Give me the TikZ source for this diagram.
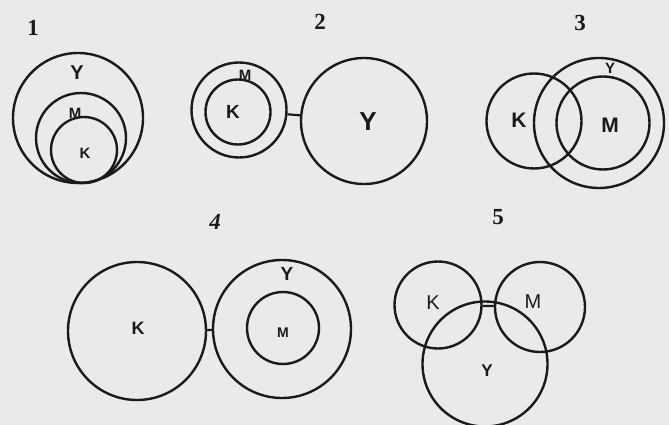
\documentclass[tikz,border=0pt]{standalone}
\usepackage{fontspec}
\setmainfont{Liberation Serif}
\newfontfamily\labfont{Liberation Sans}
\definecolor{paper}{HTML}{EAEAE8}
\definecolor{ink}{HTML}{1A1A1A}
\newcommand\fs[1]{\fontsize{#1}{#1}\selectfont}
\begin{document}
\begin{tikzpicture}[x=1pt,y=-1pt,
  ring/.style={circle,draw=ink,line width=2.4pt,inner sep=0pt,minimum size=#1},
  lab/.style={text=ink,font=\labfont\bfseries\fs{#1},inner sep=0pt},
  labl/.style={text=ink,font=\labfont\fs{#1},inner sep=0pt},
  num/.style={text=ink,font=\bfseries\fs{23},inner sep=0pt},
  link/.style={draw=ink,line width=2.2pt}]
\fill[paper] (0,0) rectangle (669,425);
\useasboundingbox (0,0) rectangle (669,425);
% figure 1
\node[num] (n1) at (33,28) {1};
\node[ring=130pt] (y1) at (78,118) {};
\node[ring=90pt] (m1) at (81,138) {};
\node[ring=66pt] (k1) at (84,150) {};
\node[lab=20] (ly1) at (77,73) {Y};
\node[lab=15] (lm1) at (75,113) {M};
\node[lab=15] (lk1) at (85,153) {K};
% figure 2
\node[num] (n2) at (320,22) {2};
\node[ring=95pt] (m2) at (239,110) {};
\node[ring=65pt] (k2) at (238,112) {};
\node[ring=126pt] (y2) at (364,121) {};
\draw[link] (m2) -- (y2);
\node[lab=15] (lm2) at (245,75) {M};
\node[lab=19] (lk2) at (233,112) {K};
\node[lab=26] (ly2) at (368,122) {Y};
% figure 3
\node[num] (n3) at (580,23) {3};
\node[ring=95pt] (k3) at (534,121) {};
\node[ring=130pt] (y3) at (599,123) {};
\node[ring=93pt] (m3) at (603,123) {};
\node[lab=21] (lk3) at (519,120) {K};
\node[lab=21] (lm3) at (610,125) {M};
\node[lab=15] (ly3) at (610,68) {Y};
% figure 4
\node[num,font=\bfseries\itshape\fs{23}] (n4) at (215,222) {4};
\node[ring=138pt] (k4) at (137,331) {};
\node[ring=138pt] (y4) at (282,329) {};
\node[ring=72pt] (m4) at (283,328) {};
\draw[link] (k4) -- (y4);
\node[lab=18] (lk4) at (138,328) {K};
\node[lab=19] (ly4) at (287,274) {Y};
\node[lab=14] (lm4) at (283,333) {M};
% figure 5
\node[num] (n5) at (498,217) {5};
\node[ring=87pt] (k5) at (438,305) {};
\node[ring=90pt] (m5) at (540,307) {};
\node[ring=125pt] (y5) at (485,364) {};
\draw[link] (k5) -- (m5);
\node[labl=20] (lk5) at (433,303) {K};
\node[labl=20] (lm5) at (533,302) {M};
\node[lab=17] (ly5) at (487,371) {Y};
\end{tikzpicture}
\end{document}
